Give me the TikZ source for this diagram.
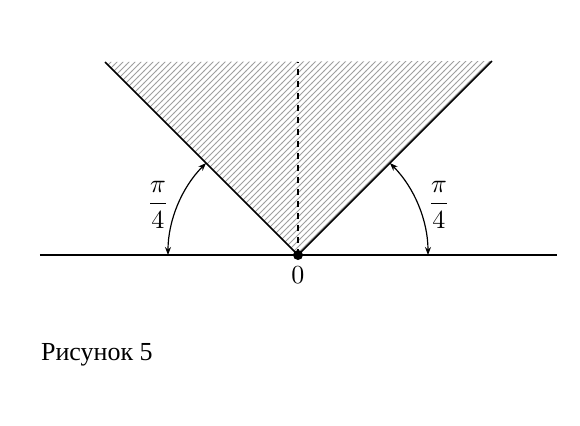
\documentclass[tikz,border=0pt]{standalone}
\usepackage{amsmath,amssymb}
\usepackage{fontspec}
\newfontfamily\cyrfont{Liberation Serif}
\usepackage{tikz}
\usetikzlibrary{
	arrows.meta,
	patterns,
	positioning
}

\begin{document}
\begin{tikzpicture}[
		x=0.5pt, y=0.5pt,
		axis/.style={thick},
		ray/.style={thick},
		angarrow/.style={{Stealth[length=4pt,width=3pt]}-{Stealth[length=4pt,width=3pt]}, semithick},
		hatch/.style={pattern=north east lines, pattern color=gray!75},
		lbl/.style={inner sep=1pt, scale=1.3}
		]
		
		% =========================
		% Frame (margins)
		% =========================
		\useasboundingbox (-298,-170) rectangle (282,255);
		
		% =========================
		% Hatched angle region
		% =========================
		\coordinate (o) at (0,0);
		\coordinate (lt) at (-193,193);
		\coordinate (rt) at (194,194);
		\fill[hatch] (o) -- (lt) -- (rt) -- cycle;
		
		% =========================
		% Axis and rays
		% =========================
		\coordinate (xl) at (-258,0);
		\coordinate (xr) at (259,0);
		\coordinate (top) at (0,193);
		\draw[axis] (xl) -- (xr);
		\draw[ray] (o) -- (lt);
		\draw[ray] (o) -- (rt);
		\draw[thick, dashed] (o) -- (top);
		\fill (o) circle (5);
		
		% =========================
		% Angle arcs
		% =========================
		\draw[angarrow] (130,0) arc (0:45:130);
		\draw[angarrow] (-130,0) arc (180:135:130);
		
		% =========================
		% Labels
		% =========================
		\node[lbl] (zero) at (0,-20) {$0$};
		\node[lbl] (angr) at (141,50) {$\dfrac{\pi}{4}$};
		\node[lbl] (angl) at (-140,50) {$\dfrac{\pi}{4}$};
		\node[lbl, anchor=west] (caption) at (-260,-100) {\cyrfont Рисунок 5};
		
	\end{tikzpicture}
\end{document}
